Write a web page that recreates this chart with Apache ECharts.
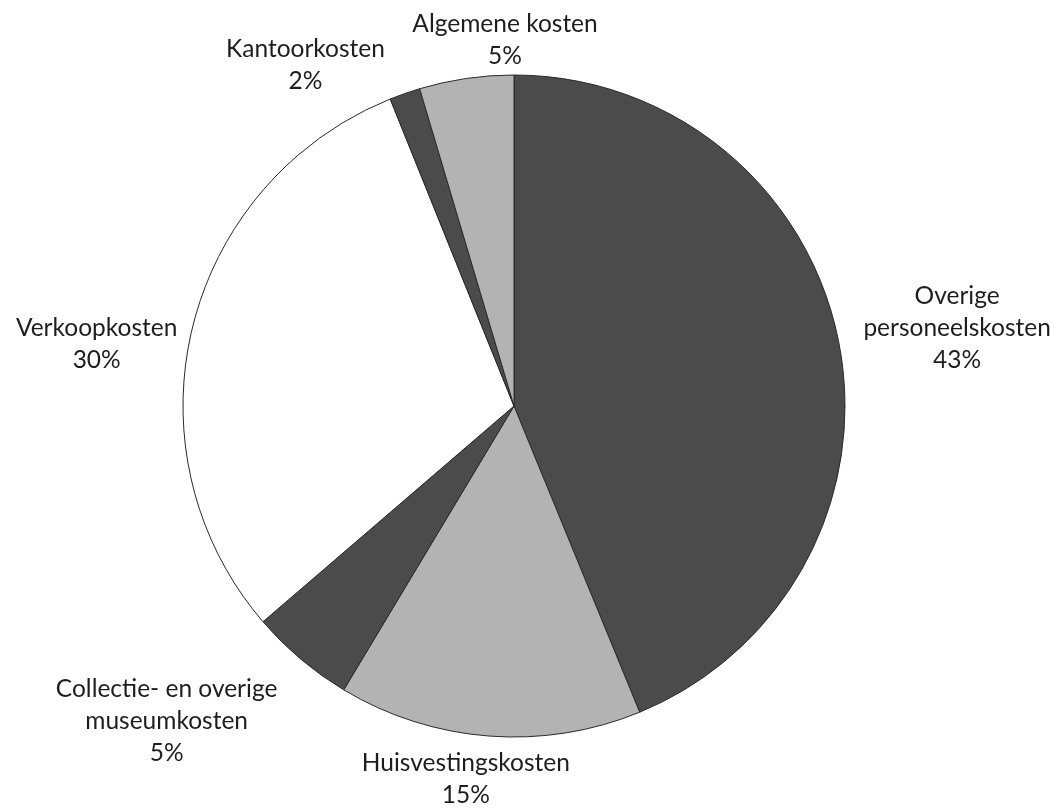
<!DOCTYPE html>
<html>
<head>
<meta charset="utf-8">
<script src="https://cdn.jsdelivr.net/npm/echarts@6/dist/echarts.min.js"></script>
<style>
  html, body { margin: 0; padding: 0; background: #fff; }
  #chart { width: 1059px; height: 810px; }
</style>
</head>
<body>
<div id="chart"></div>
<script>
// slices go clockwise from 12 o'clock
const categories = ['Overige\npersoneelskosten', 'Huisvestingskosten', 'Collectie- en overige\nmuseumkosten', 'Verkoopkosten', 'Kantoorkosten', 'Algemene kosten'];
const shares = [43.8, 14.8, 5.1, 30.2, 1.5, 4.6];
const shareLabels = ['43%', '15%', '5%', '30%', '2%', '5%'];
const sliceColors = ['#4b4b4b', '#b3b3b3', '#4b4b4b', '#ffffff', '#4b4b4b', '#b3b3b3'];

// hidden label lines, used only to push each label to where Excel put it
const lineLen = [72, 43, 81, -71, 30, 39];
const lineLen2 = [-51, -89, -34, 79, 5, -142];

const chart = echarts.init(document.getElementById('chart'));

chart.setOption({
  animation: false,
  backgroundColor: '#ffffff',
  series: [{
    type: 'pie',
    center: [514, 406],
    radius: 331,
    startAngle: 90,
    clockwise: true,
    avoidLabelOverlap: false,
    data: categories.map((name, i) => ({
      name: name,
      value: shares[i],
      itemStyle: { color: sliceColors[i] },
      labelLine: { show: false, length: lineLen[i], length2: lineLen2[i] }
    })),
    itemStyle: { borderColor: '#2a2a2a', borderWidth: 1 },
    label: {
      show: true,
      position: 'outside',
      formatter: (p) => p.name.split('\n').concat(shareLabels[p.dataIndex])
        .map(s => '{t|' + s + '}').join('\n'),
      rich: {
        t: {
          align: 'center',
          color: '#1e1e1e',
          fontFamily: 'Lato',
          fontSize: 24.5,
          lineHeight: 32
        }
      }
    },
    labelLine: { show: false }
  }]
});
</script>
</body>
</html>
